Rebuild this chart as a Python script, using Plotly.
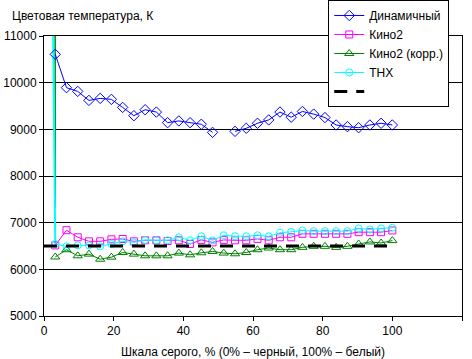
import plotly.graph_objects as go

# Grey scale positions (%), 31 steps
x_vals = [round(k * 100 / 31, 2) for k in range(1, 32)]

dynamic = [10607, 9893, 9813, 9620, 9663, 9642, 9470, 9292, 9420, 9370,
           9143, 9180, 9143, 9109, 8935, None, 8957, 9022, 9130, 9202,
           9370, 9260, 9383, 9326, 9252, 9093, 9057, 9035, 9093, 9130, 9093]
kino2 = [6513, 6839, 6687, 6600, 6600, 6643, 6650, 6600, 6622, 6622,
         6608, 6622, 6543, 6630, 6578, 6630, 6622, 6622, 6652, 6622,
         6687, 6687, 6761, 6761, 6761, 6761, 6761, 6796, 6796, 6796, 6833]
kino2_corr = [6265, 6420, 6290, 6326, 6217, 6261, 6361, 6326, 6290, 6290,
              6290, 6348, 6311, 6355, 6383, 6348, 6333, 6361, 6420, 6457,
              6420, 6420, 6471, 6493, 6493, 6471, 6493, 6543, 6587, 6565, 6616]
thx = [6543, 6491, 6513, 6513, 6491, 6543, 6600, 6578, 6630, 6622,
       6622, 6687, 6622, 6709, 6622, 6730, 6709, 6709, 6730, 6709,
       6783, 6804, 6833, 6818, 6818, 6818, 6818, 6876, 6855, 6876, 6891]

# Reference line (D65)
ref_x = [0, 100]
ref_y = [6500, 6500]

# Off-scale spikes at the first step
thx_spike_x = [2.57, 3.23]
thx_spike_y = [11500, 6543]
corr_spike_x = [3.2, 3.2]
corr_spike_y = [11500, 7320]

FONT = "Liberation Sans, Arial, sans-serif"

fig = go.Figure()

fig.add_trace(go.Scatter(x=corr_spike_x, y=corr_spike_y, mode="lines",
                         line=dict(color="#008000", width=1.5),
                         showlegend=False, hoverinfo="skip"))
fig.add_trace(go.Scatter(x=thx_spike_x, y=thx_spike_y, mode="lines",
                         line=dict(color="#00FFFF", width=2),
                         showlegend=False, hoverinfo="skip"))

fig.add_trace(go.Scatter(x=x_vals, y=dynamic, name="Динамичный",
                         mode="lines+markers", connectgaps=False,
                         line=dict(color="#0000FF", width=1),
                         marker=dict(symbol="diamond-open", size=8,
                                     color="#0000FF", line=dict(width=1))))
fig.add_trace(go.Scatter(x=x_vals, y=kino2, name="Кино2",
                         mode="lines+markers",
                         line=dict(color="#FF00FF", width=1),
                         marker=dict(symbol="square-open", size=7,
                                     color="#FF00FF", line=dict(width=1))))
fig.add_trace(go.Scatter(x=x_vals, y=kino2_corr, name="Кино2 (корр.)",
                         mode="lines+markers",
                         line=dict(color="#008000", width=1),
                         marker=dict(symbol="triangle-up-open", size=8,
                                     color="#008000", line=dict(width=1))))
fig.add_trace(go.Scatter(x=x_vals, y=thx, name="THX",
                         mode="lines+markers",
                         line=dict(color="#00FFFF", width=1),
                         marker=dict(symbol="circle-open", size=7,
                                     color="#00FFFF", line=dict(width=1))))
fig.add_trace(go.Scatter(x=ref_x, y=ref_y, name=" ", mode="lines",
                         line=dict(color="black", width=3, dash="13px,9px")))

fig.update_layout(
    width=472, height=359,
    margin=dict(l=44, r=10, t=36, b=43, autoexpand=False),
    paper_bgcolor="white", plot_bgcolor="white",
    font=dict(family=FONT, size=12, color="black"),
    showlegend=True,
    legend=dict(x=0.68, y=1.1286, xanchor="left", yanchor="top",
                bgcolor="white", bordercolor="black", borderwidth=1,
                font=dict(size=12), tracegroupgap=0),
    annotations=[
        dict(text="Цветовая температура, К", xref="paper", yref="paper",
             x=-0.081, y=1.071, xanchor="left", yanchor="middle",
             showarrow=False, font=dict(size=12)),
        dict(text="Шкала серого, % (0% – черный, 100% – белый)",
             xref="paper", yref="paper", x=0.5, y=-0.1286,
             xanchor="center", yanchor="middle", showarrow=False,
             font=dict(size=12)),
    ],
)

fig.update_xaxes(range=[0, 120], dtick=20, tick0=0, showgrid=False,
                 zeroline=False, showline=True, linecolor="black",
                 linewidth=1, mirror=True, ticks="outside", ticklen=4,
                 tickcolor="black", tickfont=dict(size=12))
fig.update_yaxes(range=[5000, 11000], dtick=1000, tick0=5000, showgrid=True,
                 gridcolor="black", gridwidth=1, zeroline=False,
                 showline=True, linecolor="black", linewidth=1, mirror=True,
                 ticks="outside", ticklen=4, tickcolor="black",
                 tickformat="d", tickfont=dict(size=12))

fig.write_html("out.html",
               config={"displayModeBar": False},
               post_script="document.body.style.margin='0';"
                           "document.body.style.overflow='hidden';")
